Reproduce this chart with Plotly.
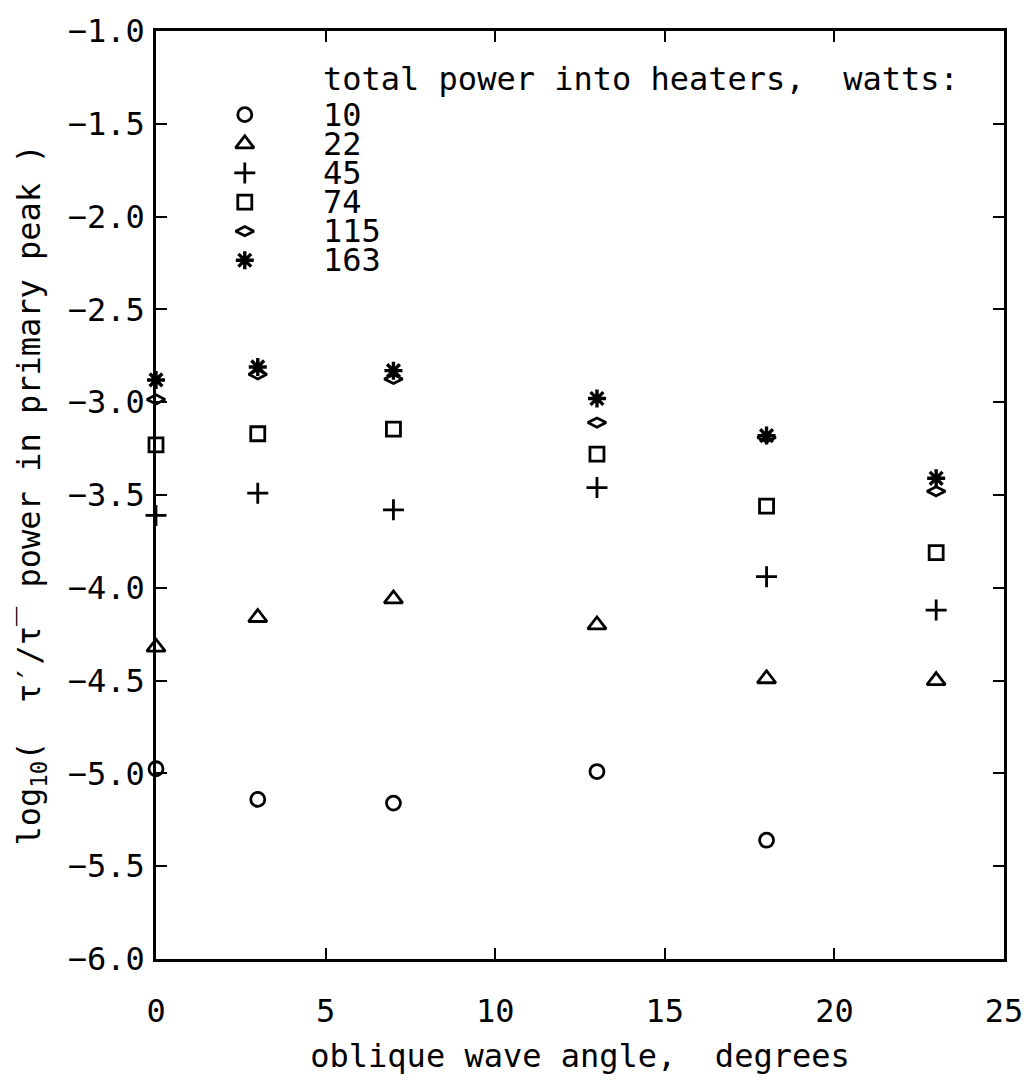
import plotly.graph_objects as go

# data
angles = [0, 3, 7, 13, 18, 23]
powers = ["10", "22", "45", "74", "115", "163"]
p10 = [-4.975, -5.14, -5.16, -4.99, -5.36, None]
p22 = [-4.32, -4.16, -4.06, -4.20, -4.49, -4.50]
p45 = [-3.61, -3.49, -3.58, -3.46, -3.94, -4.12]
p74 = [-3.23, -3.17, -3.145, -3.28, -3.56, -3.81]
p115 = [-2.985, -2.85, -2.875, -3.11, -3.19, -3.48]
p163 = [-2.88, -2.81, -2.83, -2.98, -3.18, -3.41]
series = [p10, p22, p45, p74, p115, p163]

symbols = ["circle-open", "triangle-up-open", "cross-thin-open",
           "square-open", "diamond-wide-open", "asterisk-open"]
sizes = [14, 16, 15, 14, 13, 15]
widths = [2.8, 2.8, 2.8, 2.8, 2.8, 3.4]

FONT = "DejaVu Sans Mono"
FS = 32
fig = go.Figure()

for vals, sym, sz, lw, name in zip(series, symbols, sizes, widths, powers):
    fig.add_trace(go.Scatter(
        x=angles, y=vals, mode="markers", name=name, showlegend=False,
        cliponaxis=False,
        marker=dict(symbol=sym, size=sz, color="black",
                    line=dict(color="black", width=lw)),
    ))

# hand-made legend (symbols drawn as markers, text as annotations)
W, H = 1035, 1081
L, R, T, B = 156, 29, 28, 110
pw, ph = W - L - R, H - T - B
xr = [0, 25]
yr = [-6, -1]

def px2x(px):
    return xr[0] + (px - L) / pw * (xr[1] - xr[0])

def py2y(py):
    return yr[1] - (py - T) / ph * (yr[1] - yr[0])

def ppx(px):
    return (px - L) / pw

def ppy(py):
    return 1 - (py - T) / ph

row0, step = 113, 29.6
for i, (sym, sz, lw) in enumerate(zip(symbols, sizes, widths)):
    fig.add_trace(go.Scatter(
        x=[px2x(245)], y=[py2y(row0 + i * step)], mode="markers",
        showlegend=False, cliponaxis=False,
        marker=dict(symbol=sym, size=sz, color="black",
                    line=dict(color="black", width=lw)),
    ))

annotations = [dict(
    text="total power into heaters,  watts:", x=ppx(321), y=ppy(77),
    xref="paper", yref="paper", xanchor="left", yanchor="middle",
    showarrow=False, font=dict(family=FONT, size=FS, color="black"))]
for i, name in enumerate(powers):
    annotations.append(dict(
        text=name, x=ppx(321), y=ppy(row0 + i * step),
        xref="paper", yref="paper", xanchor="left", yanchor="middle",
        showarrow=False, font=dict(family=FONT, size=FS, color="black")))

fig.update_layout(
    width=W, height=H,
    margin=dict(l=L, r=R, t=T, b=B),
    paper_bgcolor="white", plot_bgcolor="white",
    font=dict(family=FONT, size=FS, color="black"),
    annotations=annotations,
    xaxis=dict(
        range=xr, tickvals=[0, 5, 10, 15, 20, 25],
        ticks="inside", ticklen=11, tickwidth=2, tickcolor="black",
        showline=True, linewidth=2.5, linecolor="black", mirror="ticks",
        showgrid=False, zeroline=False, ticklabelstandoff=22,
        title=dict(text="oblique wave angle,  degrees", standoff=16,
                   font=dict(family=FONT, size=FS)),
    ),
    yaxis=dict(
        range=yr, tickvals=[-6, -5.5, -5, -4.5, -4, -3.5, -3, -2.5, -2, -1.5, -1],
        tickformat=".1f",
        ticks="inside", ticklen=11, tickwidth=2, tickcolor="black",
        showline=True, linewidth=2.5, linecolor="black", mirror="ticks",
        showgrid=False, zeroline=False, ticklabelstandoff=2,
        title=dict(text="log<sub>10</sub>(  τ′/τ\u0305  power in primary peak )",
                   standoff=18, font=dict(family=FONT, size=FS)),
    ),
)

fig.write_html("out.html")
